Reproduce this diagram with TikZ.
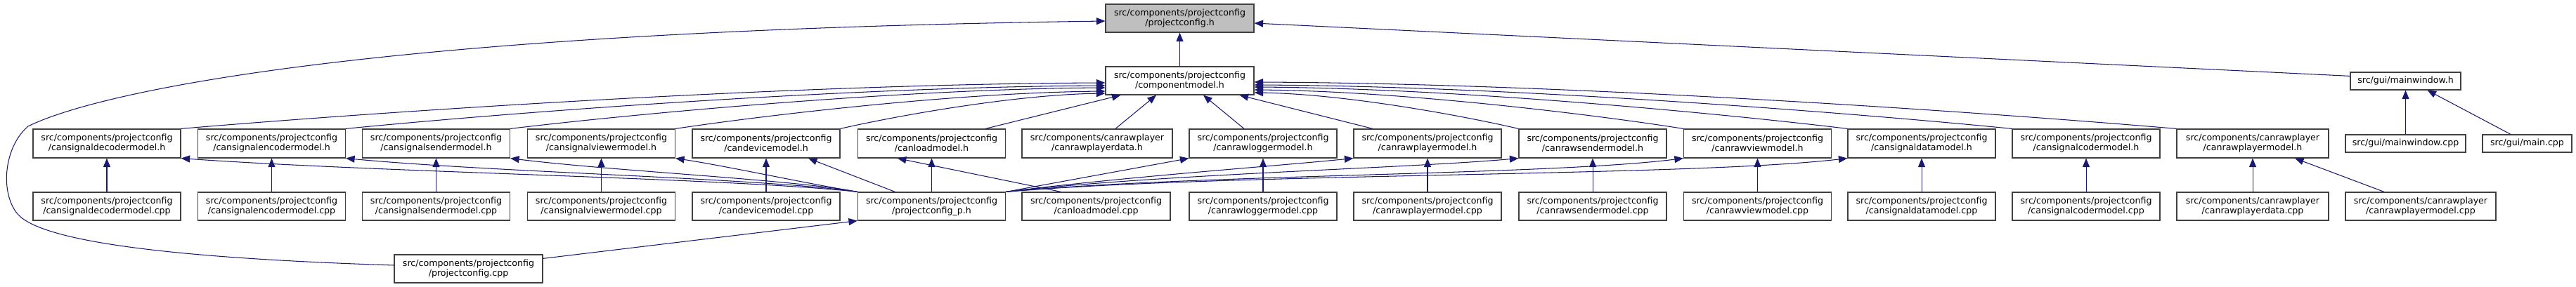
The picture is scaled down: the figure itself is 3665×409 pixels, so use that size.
\documentclass[tikz,border=0pt]{standalone}
\usepackage{fontspec}
\setmainfont{DejaVu Sans}
\usetikzlibrary{arrows.meta}
\definecolor{edgec}{HTML}{191970}
\definecolor{bord}{HTML}{404040}
\definecolor{topfill}{HTML}{BFBFBF}
\begin{document}
\begin{tikzpicture}[x=1pt,y=-1pt,
  every node/.style={font=\fontsize{12.6}{14}\selectfont},
  box/.style={draw=bord, line width=1.2pt, fill=white, inner sep=0pt, align=center, text=black},
  hb/.style={box, minimum width=210pt, minimum height=41pt},
  cb/.style={box, minimum width=210pt, minimum height=40pt},
  e/.style={draw=edgec, line width=1.05pt, -{Triangle[length=12.5pt,width=10pt]}}]
\useasboundingbox (0,0) rectangle (3665,409);
% top
\node[box, fill=topfill, minimum width=211pt, minimum height=40pt] (pch) at (1678.5,26) {src/components/projectconfig\\/projectconfig.h};
\node[box, minimum width=211pt, minimum height=40pt] (cmh) at (1678.5,115) {src/components/projectconfig\\/componentmodel.h};
\node[box, minimum width=157pt, minimum height=25pt] (mwh) at (3422.5,115.5) {src/gui/mainwindow.h};
% row 2
\node[hb] (r0) at (152,204.5) {src/components/projectconfig\\/cansignaldecodermodel.h};
\node[hb] (r1) at (386.5,204.5) {src/components/projectconfig\\/cansignalencodermodel.h};
\node[hb] (r2) at (620.5,204.5) {src/components/projectconfig\\/cansignalsendermodel.h};
\node[hb] (r3) at (855.5,204.5) {src/components/projectconfig\\/cansignalviewermodel.h};
\node[hb] (r4) at (1090,204.5) {src/components/projectconfig\\/candevicemodel.h};
\node[hb] (r5) at (1325.5,204.5) {src/components/projectconfig\\/canloadmodel.h};
\node[hb, minimum width=214pt] (r6) at (1561,204.5) {src/components/canrawplayer\\/canrawplayerdata.h};
\node[hb] (r7) at (1797,204.5) {src/components/projectconfig\\/canrawloggermodel.h};
\node[hb] (r8) at (2031,204.5) {src/components/projectconfig\\/canrawplayermodel.h};
\node[hb] (r9) at (2266,204.5) {src/components/projectconfig\\/canrawsendermodel.h};
\node[hb] (r10) at (2500.5,204.5) {src/components/projectconfig\\/canrawviewmodel.h};
\node[hb] (r11) at (2734,204.5) {src/components/projectconfig\\/cansignaldatamodel.h};
\node[hb] (r12) at (2968,204.5) {src/components/projectconfig\\/cansignalcodermodel.h};
\node[hb, minimum width=216pt] (r13) at (3205,204.5) {src/components/canrawplayer\\/canrawplayermodel.h};
\node[box, minimum width=171pt, minimum height=25pt] (mwcpp) at (3422.5,204.5) {src/gui/mainwindow.cpp};
\node[box, minimum width=127pt, minimum height=25pt] (maincpp) at (3595.5,204.5) {src/gui/main.cpp};
% row 3
\node[cb] (b0) at (152,294) {src/components/projectconfig\\/cansignaldecodermodel.cpp};
\node[cb] (b1) at (386.5,294) {src/components/projectconfig\\/cansignalencodermodel.cpp};
\node[cb] (b2) at (620.5,294) {src/components/projectconfig\\/cansignalsendermodel.cpp};
\node[cb] (b3) at (855.5,294) {src/components/projectconfig\\/cansignalviewermodel.cpp};
\node[cb] (b4) at (1090,294) {src/components/projectconfig\\/candevicemodel.cpp};
\node[cb] (b5) at (1325.5,294) {src/components/projectconfig\\/projectconfig\_p.h};
\node[cb, minimum width=211pt] (b6) at (1559.5,294) {src/components/projectconfig\\/canloadmodel.cpp};
\node[cb] (b7) at (1797,294) {src/components/projectconfig\\/canrawloggermodel.cpp};
\node[cb] (b8) at (2031,294) {src/components/projectconfig\\/canrawplayermodel.cpp};
\node[cb] (b9) at (2266,294) {src/components/projectconfig\\/canrawsendermodel.cpp};
\node[cb] (b10) at (2500.5,294) {src/components/projectconfig\\/canrawviewmodel.cpp};
\node[cb] (b11) at (2734,294) {src/components/projectconfig\\/cansignaldatamodel.cpp};
\node[cb] (b12) at (2968,294) {src/components/projectconfig\\/cansignalcodermodel.cpp};
\node[cb, minimum width=216pt] (b13) at (3205,294) {src/components/canrawplayer\\/canrawplayerdata.cpp};
\node[cb, minimum width=214pt] (b14) at (3444,294) {src/components/canrawplayer\\/canrawplayermodel.cpp};
% bottom
\node[cb, minimum width=211pt] (pcpp) at (666.5,383) {src/components/projectconfig\\/projectconfig.cpp};

% edges to projectconfig.h
\draw[e] (cmh) -- (pch);
\draw[e] ([yshift=-6pt]mwh.north west) -- ([yshift=-7pt]pch.east);
\draw[e] ([yshift=5pt]pcpp.west) .. controls (250,368) and (60,345) .. (25,305)
  .. controls (0,275) and (5,210) .. (40,180)
  .. controls (130,135) and (500,45) .. ([yshift=-4pt]pch.west);
% left fan into componentmodel.h
\draw[e] (r0.north east) .. controls (520,161) and (1112,120) .. ([yshift=-3pt]cmh.west);
\draw[e] (r1.north east) .. controls (708,162) and (1195,124) .. ([yshift=-7pt]cmh.west);
\draw[e] (r2.north east) .. controls (895,163) and (1277,127) .. ([yshift=-10pt]cmh.west);
\draw[e] (r3.north east) .. controls (1083,165) and (1359,132) .. ([yshift=-15pt]cmh.west);
\draw[e] (r4.north east) .. controls (1271,166) and (1441,135) .. ([yshift=-18pt]cmh.west);
\draw[e] ([xshift=-29pt]r5.north east) -- ([xshift=22pt]cmh.south west);
\draw[e] ([xshift=26pt]r6.north) -- ([xshift=-33.5pt]cmh.south);
\draw[e] ([xshift=-27pt]r7.north) -- ([xshift=33.5pt]cmh.south);
\draw[e] ([xshift=-78pt]r8.north) -- ([xshift=-21pt]cmh.south east);
% right fan into componentmodel.h
\draw[e] (r9.north west) .. controls (2086,166) and (1916,134) .. ([yshift=-17pt]cmh.east);
\draw[e] (r10.north west) .. controls (2273,164) and (1998,130) .. ([yshift=-13pt]cmh.east);
\draw[e] (r11.north west) .. controls (2460,163) and (2080,126) .. ([yshift=-9pt]cmh.east);
\draw[e] (r12.north west) .. controls (2647,162) and (2162,123) .. ([yshift=-6pt]cmh.east);
\draw[e] (r13.north west) .. controls (2834,161) and (2244,119) .. ([yshift=-2pt]cmh.east);
% vertical children
\draw[e] (b0) -- (r0);
\draw[e] (b1) -- (r1);
\draw[e] (b2) -- (r2);
\draw[e] (b3) -- (r3);
\draw[e] (b4) -- (r4);
\draw[e] (b5) -- (r5);
\draw[e] (b7) -- (r7);
\draw[e] (b8) -- (r8);
\draw[e] (b9) -- (r9);
\draw[e] (b10) -- (r10);
\draw[e] (b11) -- (r11);
\draw[e] (b12) -- (r12);
\draw[e] (b13) -- (r13);
\draw[e] (mwcpp) -- (mwh);
% diagonals
\draw[e] ([xshift=-50pt]b6.north) -- ([xshift=57pt]r5.south west);
\draw[e] ([xshift=-52pt]b14.north) -- ([xshift=60pt]r13.south);
\draw[e] ([xshift=-23.5pt]maincpp.north) -- ([xshift=31pt]mwh.south);
\draw[e] ([xshift=-52pt]b5.north) -- ([xshift=60pt]r4.south);
\draw[e] ([yshift=-6pt]pcpp.north east) -- (b5.south west);
% projectconfig_p.h to the left
\draw[e] (b5.north west) .. controls (1047,254) and (546,246) .. (r0.south east);
\draw[e] (b5.north west) .. controls (1089,254) and (710,246) .. (r1.south east);
\draw[e] (b5.north west) .. controls (1131,256) and (874,244) .. (r2.south east);
\draw[e] (b5.north west) .. controls (1150,262) and (1030,236) .. (r3.south east);
% projectconfig_p.h to the right
\draw[e] (b5.north east) -- (r7.south west);
\draw[e] (b5.north east) .. controls (1600,252) and (1800,238) .. (r8.south west);
\draw[e] (b5.north east) .. controls (1650,248) and (2000,240) .. (r9.south west);
\draw[e] (b5.north east) .. controls (1700,248) and (2200,250) .. (r10.south west);
\draw[e] (b5.north east) .. controls (1750,246) and (2400,252) .. (r11.south west);
\end{tikzpicture}
\end{document}
